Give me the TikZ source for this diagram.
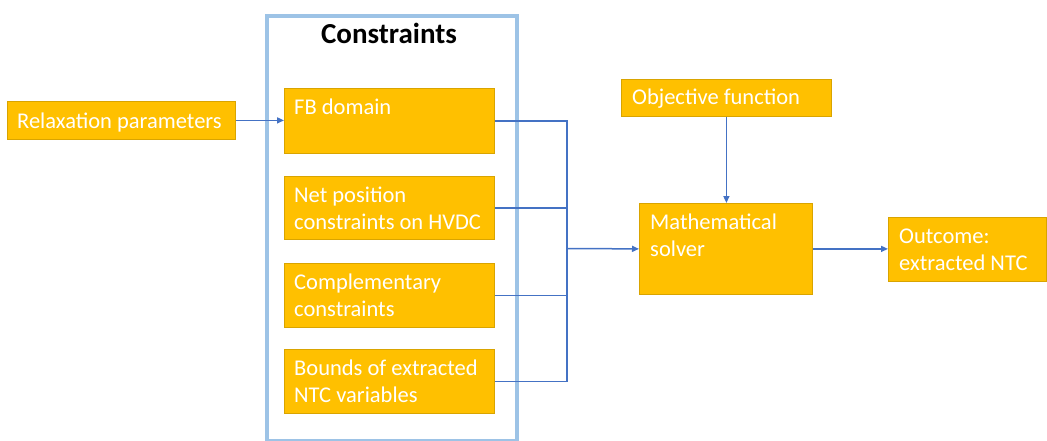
\documentclass[tikz,border=0pt]{standalone}
\usepackage{fontspec}
\setmainfont{Carlito}
\usetikzlibrary{arrows.meta,calc}
\definecolor{boxfill}{HTML}{FFC000}
\definecolor{boxline}{HTML}{D9A400}
\definecolor{arr}{HTML}{4472C4}
\definecolor{frame}{HTML}{9DC3E6}
\begin{document}
\begin{tikzpicture}[x=1pt,y=-1pt,
  box/.style={draw=boxline,fill=boxfill,line width=0.8pt,inner sep=0pt,anchor=north west},
  txt/.style={inner sep=0pt,anchor=base west,text=white,font=\fontsize{22.5}{27}\selectfont},
  conn/.style={draw=arr,line width=1.5pt},
  arw/.style={conn,-{Triangle[length=7pt,width=6pt]}}]
\useasboundingbox (0,0) rectangle (1047,441);
% container
\node[draw=frame,line width=4pt,minimum width=249.5pt,minimum height=425pt,inner sep=0pt,anchor=north west] (cont) at (265,14) {};
\node[inner sep=0pt,anchor=base,font=\fontsize{29}{33}\selectfont\bfseries] (title) at (389,44) {Constraints};
% boxes
\node[box,minimum width=228pt,minimum height=38pt] (relax) at (7,101) {};
\node[box,minimum width=210pt,minimum height=65pt] (fb) at (284,88) {};
\node[box,minimum width=210pt,minimum height=63pt] (net) at (284,176) {};
\node[box,minimum width=210pt,minimum height=64pt] (comp) at (284,263) {};
\node[box,minimum width=210pt,minimum height=64pt] (bnd) at (284,349) {};
\node[box,minimum width=210pt,minimum height=37pt] (obj) at (621,79) {};
\node[box,minimum width=173pt,minimum height=91pt] (solver) at (639,203) {};
\node[box,minimum width=158pt,minimum height=64pt] (out) at (888,217) {};
% texts
\node[txt] (trelax) at ($(relax.north west)+(10,28)$) {\parbox[t]{220pt}{Relaxation parameters}};
\node[txt] (tfb) at ($(fb.north west)+(10,27)$) {\parbox[t]{200pt}{FB domain}};
\node[txt] (tnet) at ($(net.north west)+(10,26)$) {\parbox[t]{205pt}{Net position\\constraints on HVDC}};
\node[txt] (tcomp) at ($(comp.north west)+(10,26)$) {\parbox[t]{200pt}{Complementary\\constraints}};
\node[txt] (tbnd) at ($(bnd.north west)+(10,26)$) {\parbox[t]{200pt}{Bounds of extracted\\NTC variables}};
\node[txt] (tobj) at ($(obj.north west)+(11,26)$) {\parbox[t]{200pt}{Objective function}};
\node[txt] (tsol) at ($(solver.north west)+(11,26)$) {\parbox[t]{160pt}{Mathematical\\solver}};
\node[txt] (tout) at ($(out.north west)+(11,26)$) {\parbox[t]{150pt}{Outcome:\\extracted NTC}};
% connectors
\coordinate (bus) at (567,248.5);
\draw[conn] (fb.east) -| (bus);
\draw[conn] (net.east) -| (bus);
\draw[conn] (comp.east) -| (bus);
\draw[conn] (bnd.east) -| (bus);
\draw[arw] (bus) -- (solver.west);
\draw[arw] (relax.east) -- (relax.east -| fb.west);
\draw[arw] (obj.south) -- (obj.south |- solver.north);
\draw[arw] (solver.east) -- (solver.east -| out.west);
\end{tikzpicture}
\end{document}
